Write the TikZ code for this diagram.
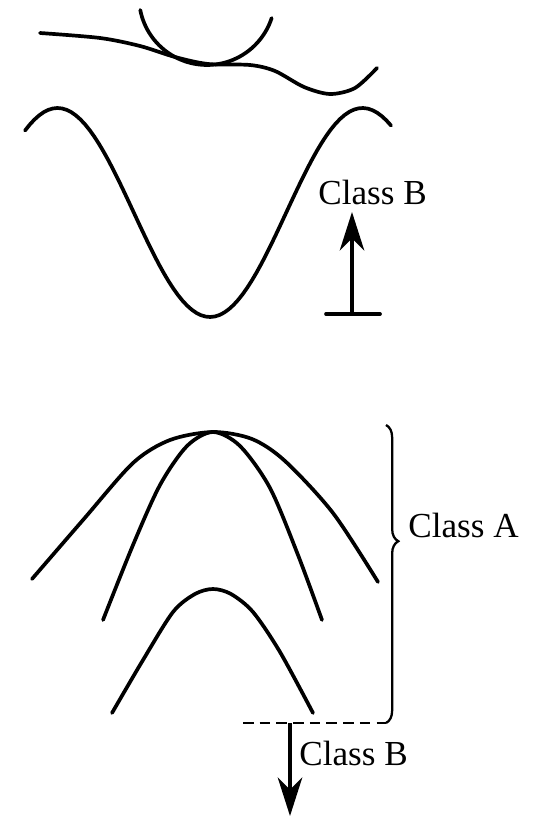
\documentclass[tikz,border=0pt]{standalone}
\usepackage{fontspec}
\setmainfont{Liberation Serif}
\usetikzlibrary{arrows.meta,positioning,decorations.pathreplacing}

\begin{document}
\begin{tikzpicture}[x=0.02cm,y=-0.02cm,
    curve/.style={line width=2.1pt,line cap=round,line join=round},
    lbl/.style={font=\fontsize{20}{24}\selectfont,inner sep=0pt},
    arr/.style={line width=2pt,-{Stealth[length=22pt,width=14pt,inset=7pt]}}]
  \useasboundingbox (0,0) rectangle (538,817);
  % upper picture: level curves near a saddle
  \draw[curve] plot[domain=169:18,samples=50] ({207+68*cos(\x)},{-3+68*sin(\x)});
  \draw[curve] plot[smooth] coordinates {(40,33) (100,38) (140,46) (175,57) (208,64)
    (250,65) (275,71) (304,87) (330,94) (355,88) (377,68)};
  \draw[curve] plot[domain=25:391,samples=80] (\x,{212.5-104.5*cos(1.18033*(\x-57.5))});
  \node[lbl,anchor=base west] (upB) at (318,205) {Class B};
  \coordinate (upbase) at (352,314);
  \coordinate (uptip) at (352,212);
  \draw[curve] (326,314) -- (380,314);
  \draw[arr] (upbase) -- (uptip);
  % lower picture: nested peaks
  \draw[curve] plot[smooth] coordinates {(32,579) (83,520) (133,463) (170,440) (213,432)
    (252,439) (285,461) (333,513) (378,582)};
  \draw[curve] plot[smooth] coordinates {(103,620) (133,545) (160,485) (187,446) (213,432)
    (240,446) (270,488) (298,555) (322,620)};
  \draw[curve] plot[smooth] coordinates {(112,713) (143,660) (173,612) (195,594) (213,589)
    (231,594) (253,612) (280,652) (313,713)};
  \coordinate (brtop) at (386,425);
  \coordinate (brbot) at (386,723);
  \draw[line width=1.3pt,decorate,decoration={brace,amplitude=7pt,aspect=0.39}] (brtop) -- (brbot);
  \node[lbl,anchor=base west] (clA) at (408,537) {Class A};
  \coordinate (dashL) at (243,723);
  \draw[line width=1.4pt,dash pattern=on 6pt off 3.5pt] (dashL) -- (brbot);
  \coordinate (dnbase) at (290,723);
  \coordinate (dntip) at (290,816);
  \draw[arr] (dnbase) -- (dntip);
  \node[lbl,anchor=base west] (dnB) at (299,765) {Class B};
\end{tikzpicture}
\end{document}
